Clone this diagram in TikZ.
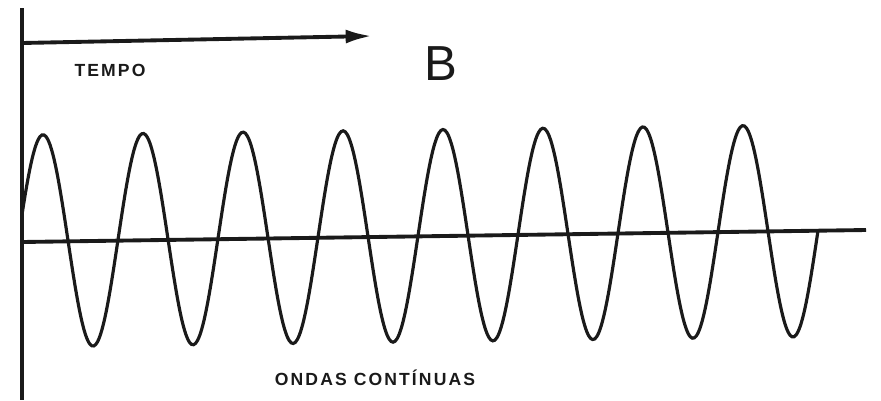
\documentclass[tikz,border=0pt]{standalone}
\usepackage{fontspec}
\setmainfont{Liberation Sans}
\usetikzlibrary{arrows.meta}
\usepackage{xcolor}
\definecolor{ink}{HTML}{1A1A1A}
\tikzset{
  axis/.style  = {line width=2.2pt, ink},
  wave/.style  = {line width=1.8pt, ink, smooth},
  arr/.style   = {axis, -{Latex[length=15pt, width=8pt]}},
  labl/.style  = {font=\bfseries\fontsize{10}{10}\selectfont\addfontfeatures{LetterSpace=12}, text=ink},
  title/.style = {font=\fontsize{28}{28}\selectfont, text=ink},
}

\begin{document}
\begin{tikzpicture}[x=0.02cm, y=-0.02cm]
  \useasboundingbox (0,0) rectangle (881,400);
  \coordinate (top) at (22,8);
  \coordinate (bot) at (22,400);
  \coordinate (t0) at (22,43);
  \coordinate (t1) at (372,36);
  \coordinate (a0) at (22,242);
  \coordinate (a1) at (866,230);
  \draw[axis] (top) -- (bot);
  \draw[axis] (a0) -- (a1);
  \draw[arr] (t0) -- (t1);
  \node[labl] (tempo) at (110,70) {TEMPO};
  \node[title] (letter) at (441,64) {B};
  \node[labl] (ondas) at (375,378) {ONDAS CONTÍNUAS};
  \draw[wave] plot[domain=22:818, samples=400]
    (\x, {241 - (\x-22)*11/844 - 106*sin(3.6*(\x-18))});
\end{tikzpicture}
\end{document}
